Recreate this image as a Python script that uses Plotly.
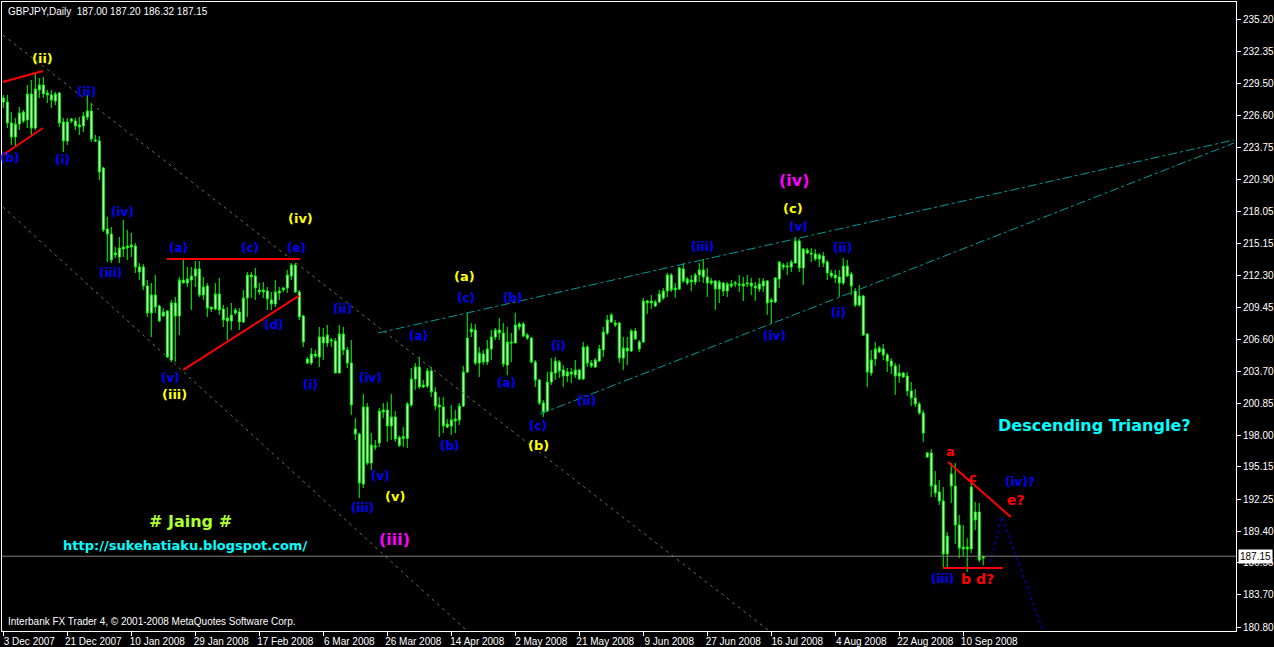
import plotly.graph_objects as go

# daily GBPJPY bars (bar 0 = 3 Dec 2007)
opens = [
    227.85, 227.85, 225.97, 224.72, 225.88, 226.15, 226.24, 228.57, 225.52, 228.93,
    229.37, 228.48, 228.48, 227.94, 228.66, 226.06, 224.36, 226.15, 226.15, 225.61,
    225.70, 226.50, 227.04, 224.45, 224.36, 221.94, 216.47, 216.02, 214.14, 213.96,
    214.68, 214.95, 214.86, 214.95, 213.07, 213.07, 211.37, 208.95, 210.56, 209.57,
    208.68, 209.12, 204.73, 209.84, 208.68, 211.90, 211.63, 211.90, 212.26, 212.89,
    210.56, 211.37, 209.30, 209.30, 210.65, 209.30, 208.23, 208.23, 208.95, 209.03,
    208.14, 210.29, 212.35, 212.26, 211.01, 210.83, 210.92, 210.11, 209.75, 210.74,
    211.01, 211.18, 212.26, 213.24, 210.83, 208.68, 204.82, 204.46, 205.27, 205.00,
    206.79, 206.26, 206.44, 206.44, 203.57, 207.06, 205.63, 204.46, 198.55, 198.10,
    193.62, 200.52, 195.50, 197.03, 197.30, 200.07, 200.25, 198.82, 199.63, 197.79,
    197.70, 197.70, 200.70, 203.03, 204.10, 202.31, 202.40, 203.75, 201.87, 200.70,
    200.52, 198.72, 198.82, 199.27, 199.36, 200.61, 203.66, 207.24, 207.42, 204.46,
    205.27, 204.55, 205.72, 206.79, 207.42, 207.15, 204.28, 206.35, 206.26, 207.96,
    207.96, 206.70, 206.70, 204.55, 202.94, 200.88, 200.16, 202.76, 203.57, 204.55,
    203.84, 203.30, 203.66, 203.39, 203.84, 203.03, 205.90, 204.46, 204.10, 204.64,
    205.63, 207.15, 208.14, 208.05, 208.05, 204.91, 205.81, 205.54, 207.33, 206.35,
    206.35, 210.02, 209.84, 209.57, 209.93, 210.29, 210.92, 212.35, 211.01, 211.09,
    212.89, 211.63, 211.90, 211.72, 212.35, 212.80, 212.17, 211.63, 211.81, 211.09,
    211.63, 210.92, 211.54, 211.54, 211.54, 211.36, 211.54, 211.63, 211.36, 211.09,
    211.36, 211.81, 209.93, 209.93, 211.99, 213.24, 213.06, 213.06, 213.42, 215.40,
    212.98, 214.59, 214.32, 214.23, 213.78, 214.05, 213.51, 212.53, 212.35, 212.17,
    211.63, 213.15, 212.44, 210.92, 209.66, 210.47, 207.06, 203.57, 204.82, 205.45,
    205.72, 205.18, 204.64, 204.20, 203.30, 203.57, 203.30, 201.96, 201.33, 200.79,
    199.98, 196.05, 196.41, 193.53, 192.91, 192.10, 187.35, 194.52, 193.44, 189.95,
    187.80, 187.98, 187.80, 191.12, 191.12, 187.00,
]
highs = [
    228.48, 228.48, 226.95, 226.42, 227.40, 227.13, 229.37, 229.82, 230.45, 230.00,
    230.09, 228.93, 228.93, 228.75, 228.75, 226.42, 226.42, 226.42, 226.42, 226.50,
    226.95, 228.48, 227.76, 224.89, 224.80, 222.03, 217.55, 216.65, 214.86, 215.75,
    217.28, 216.38, 216.11, 215.22, 213.42, 213.33, 211.90, 211.63, 212.35, 209.66,
    209.39, 209.21, 210.11, 210.38, 212.17, 213.87, 213.07, 213.07, 213.60, 213.60,
    212.17, 211.63, 209.48, 211.63, 212.08, 209.66, 209.48, 209.84, 209.39, 209.39,
    211.01, 212.62, 212.62, 212.98, 211.63, 211.72, 211.27, 210.83, 211.90, 211.27,
    211.27, 212.80, 213.42, 213.42, 211.01, 208.77, 205.00, 205.81, 205.63, 207.69,
    207.60, 207.87, 206.71, 206.71, 207.87, 207.69, 205.90, 206.53, 199.53, 198.19,
    201.68, 200.88, 198.19, 197.57, 200.43, 200.88, 200.97, 201.69, 200.16, 197.97,
    198.73, 200.97, 204.02, 204.46, 205.00, 202.94, 204.02, 204.10, 202.31, 201.42,
    201.42, 199.43, 200.70, 200.25, 200.88, 204.20, 208.94, 208.04, 207.95, 205.90,
    205.63, 206.53, 207.42, 207.60, 208.50, 208.05, 207.69, 207.15, 208.94, 208.14,
    208.14, 207.15, 206.79, 204.73, 203.03, 201.15, 203.66, 204.91, 205.00, 204.73,
    204.28, 204.02, 204.02, 204.73, 203.93, 206.35, 206.08, 204.73, 204.91, 206.08,
    207.69, 208.77, 208.95, 208.32, 208.14, 206.79, 206.79, 207.51, 207.60, 206.53,
    210.29, 210.11, 210.56, 210.11, 211.01, 211.18, 212.53, 212.53, 211.63, 213.06,
    213.42, 212.17, 212.35, 212.53, 213.42, 213.78, 212.98, 212.08, 211.90, 211.90,
    211.72, 211.72, 211.90, 211.81, 212.35, 212.17, 212.35, 212.08, 211.72, 212.08,
    212.08, 211.90, 210.29, 212.17, 213.60, 213.42, 213.51, 213.69, 215.75, 215.58,
    214.77, 214.77, 214.77, 214.68, 214.32, 214.41, 213.69, 212.80, 212.80, 212.80,
    213.87, 213.69, 212.62, 211.18, 211.45, 210.56, 207.15, 205.63, 206.35, 206.00,
    206.17, 205.36, 204.91, 204.46, 204.37, 203.66, 203.66, 202.76, 202.14, 200.97,
    200.25, 196.50, 196.76, 194.79, 193.98, 193.35, 189.32, 195.50, 195.50, 190.84,
    189.95, 188.78, 193.71, 192.01, 191.92, 187.20,
]
lows = [
    227.31, 225.52, 224.00, 223.82, 225.34, 225.97, 225.52, 224.89, 225.34, 228.21,
    228.21, 227.76, 227.31, 227.58, 225.61, 223.37, 224.00, 225.97, 225.34, 224.89,
    225.16, 226.24, 224.27, 224.27, 220.86, 216.20, 213.51, 213.42, 213.87, 213.42,
    213.96, 213.69, 213.96, 212.53, 211.90, 211.01, 208.59, 206.79, 208.95, 208.14,
    208.59, 204.91, 204.55, 204.55, 206.97, 211.63, 211.27, 209.21, 211.27, 210.38,
    210.11, 208.59, 209.03, 209.21, 208.77, 207.69, 206.53, 207.42, 208.77, 207.42,
    208.05, 208.59, 210.29, 210.11, 210.56, 210.29, 209.21, 209.21, 209.48, 210.11,
    210.83, 210.74, 211.90, 210.74, 208.32, 205.90, 204.37, 204.28, 204.91, 204.10,
    204.73, 205.90, 205.90, 203.57, 203.57, 205.18, 204.01, 199.81, 197.57, 192.37,
    193.26, 195.32, 194.88, 196.67, 196.94, 199.54, 197.39, 197.57, 197.39, 196.94,
    196.94, 196.85, 200.52, 202.05, 202.14, 202.22, 202.22, 201.42, 200.25, 197.83,
    198.19, 198.64, 198.01, 198.19, 198.91, 200.52, 203.57, 206.79, 204.28, 203.21,
    204.28, 204.28, 204.73, 206.53, 206.53, 204.10, 203.39, 204.55, 206.26, 207.42,
    206.79, 206.53, 204.46, 202.31, 200.70, 199.63, 200.07, 202.49, 202.94, 203.12,
    202.31, 202.76, 202.67, 203.12, 202.94, 202.94, 204.10, 204.02, 204.02, 204.55,
    204.99, 206.97, 208.05, 207.69, 204.46, 203.84, 204.28, 205.45, 206.53, 205.45,
    206.26, 208.86, 209.30, 209.48, 209.84, 210.11, 210.38, 210.83, 210.29, 211.01,
    211.63, 211.45, 210.92, 211.45, 211.72, 211.63, 210.38, 211.45, 209.21, 209.84,
    210.47, 210.38, 211.18, 211.27, 210.83, 210.02, 211.27, 210.56, 210.02, 210.83,
    210.83, 208.77, 207.96, 209.84, 211.18, 212.80, 212.35, 212.62, 213.42, 212.62,
    211.45, 214.23, 213.51, 213.60, 213.06, 213.06, 211.90, 212.08, 211.63, 210.38,
    211.45, 212.17, 210.56, 209.48, 209.48, 206.88, 202.31, 203.30, 204.20, 205.36,
    204.73, 203.66, 203.48, 201.60, 202.67, 203.12, 201.51, 200.61, 200.52, 199.81,
    197.39, 195.96, 192.45, 192.45, 191.74, 186.09, 186.10, 191.92, 188.25, 186.99,
    187.08, 185.74, 187.44, 189.50, 186.63, 186.32,
]
closes = [
    228.21, 225.97, 224.72, 225.88, 226.86, 226.95, 228.57, 225.52, 229.02, 229.37,
    228.57, 228.66, 228.03, 228.57, 225.97, 224.36, 226.06, 226.33, 225.70, 225.79,
    226.60, 227.04, 224.54, 224.36, 221.58, 216.38, 216.02, 213.69, 214.32, 214.77,
    214.86, 214.77, 215.04, 213.07, 212.62, 211.37, 208.95, 210.56, 209.48, 208.23,
    209.03, 205.00, 209.84, 208.68, 211.90, 211.63, 211.99, 212.26, 212.89, 210.56,
    211.27, 209.39, 209.48, 210.65, 209.21, 208.32, 208.50, 208.77, 209.21, 208.14,
    210.29, 212.35, 212.17, 211.18, 210.83, 211.01, 210.20, 209.75, 210.83, 210.92,
    211.18, 212.35, 213.24, 210.83, 208.59, 206.35, 204.46, 205.27, 205.09, 206.79,
    206.26, 206.97, 206.53, 203.57, 207.06, 205.63, 204.46, 200.70, 198.10, 193.71,
    200.52, 195.50, 197.12, 196.94, 200.16, 200.25, 198.82, 199.63, 197.66, 197.08,
    197.88, 200.79, 203.03, 204.10, 202.31, 202.49, 203.75, 201.87, 200.61, 200.52,
    198.82, 198.99, 199.36, 199.45, 200.61, 203.66, 206.70, 207.51, 204.46, 205.36,
    204.55, 205.72, 206.79, 207.42, 207.15, 204.37, 206.35, 206.26, 207.87, 207.69,
    206.88, 206.97, 204.55, 202.94, 200.88, 200.07, 202.76, 203.66, 204.64, 203.75,
    203.30, 203.66, 203.48, 203.84, 203.03, 205.90, 204.46, 204.20, 204.73, 205.72,
    207.24, 208.32, 208.77, 207.87, 204.91, 205.81, 205.54, 207.33, 206.62, 205.72,
    210.02, 209.84, 210.02, 209.93, 210.65, 210.92, 212.35, 211.01, 211.18, 212.98,
    211.81, 211.99, 211.72, 212.35, 212.80, 212.17, 211.63, 211.81, 211.09, 211.72,
    210.92, 211.54, 211.36, 211.63, 211.45, 211.54, 211.63, 211.36, 211.18, 211.54,
    211.81, 209.84, 210.11, 212.08, 213.51, 213.06, 213.15, 213.51, 215.40, 212.98,
    214.68, 214.32, 214.23, 213.78, 214.14, 213.42, 212.53, 212.26, 212.08, 211.63,
    213.15, 212.26, 211.36, 209.66, 210.47, 206.97, 203.66, 204.73, 205.72, 205.81,
    205.18, 204.64, 204.20, 203.30, 203.57, 203.21, 201.96, 201.33, 200.79, 199.98,
    198.19, 196.41, 193.44, 192.82, 192.10, 187.35, 188.96, 193.44, 189.95, 187.89,
    187.98, 187.80, 193.35, 190.40, 186.81, 187.15,
]
bars = list(range(len(closes)))

date_ticks = [0, 16, 32, 48, 64, 80, 96, 112, 128, 144, 160, 176, 192, 208, 224, 240]
date_labels = ["3 Dec 2007", "21 Dec 2007", "10 Jan 2008", "29 Jan 2008", "17 Feb 2008",
               "6 Mar 2008", "26 Mar 2008", "14 Apr 2008", "2 May 2008", "21 May 2008",
               "9 Jun 2008", "27 Jun 2008", "16 Jul 2008", "4 Aug 2008", "22 Aug 2008",
               "10 Sep 2008"]
price_ticks = [235.20, 232.35, 229.50, 226.60, 223.75, 220.90, 218.05, 215.15, 212.30,
               209.45, 206.60, 203.70, 200.85, 198.00, 195.15, 192.25, 189.40, 186.55,
               183.70, 180.80]
last_price = 187.15

# trendlines: (bar0, price0, bar1, price1)
channel_lines = [(-0.1, 233.85, 191.2, 180.54), (-0.1, 218.44, 115.7, 180.54)]
wedge_lines = [(93.7, 207.15, 307.7, 224.45), (134.2, 199.89, 307.7, 224.18)]
red_lines = [
    (-0.1, 229.64, 9.9, 230.63), (-0.1, 223.10, 9.9, 225.52),
    (40.9, 213.78, 74.2, 213.78), (45.0, 203.84, 74.0, 210.50),
    (236.2, 195.59, 251.9, 190.67), (234.9, 186.10, 249.9, 186.10),
]
projection_x = [246.7, 249.7, 259.9]
projection_y = [186.63, 190.67, 180.54]

YEL, BLU, MAG, RED = "#FFFF00", "#0000FF", "#FF00FF", "#FF0000"
# wave labels: (bar, price, text, colour, size)
wave_labels = [
    (9.9, 231.79, "(ii)", YEL, 13), (74.2, 217.37, "(iv)", YEL, 13),
    (42.9, 201.60, "(iii)", YEL, 13), (115.4, 212.17, "(a)", YEL, 13),
    (133.7, 197.03, "(b)", YEL, 13), (197.4, 218.35, "(c)", YEL, 13),
    (97.9, 192.46, "(v)", YEL, 13),
    (197.9, 220.86, "(iv)", MAG, 16), (97.9, 188.61, "(iii)", MAG, 16),
    (1.7, 222.83, "(b)", BLU, 12), (14.9, 222.65, "(i)", BLU, 12),
    (20.9, 228.75, "(ii)", BLU, 12), (26.7, 212.53, "(iii)", BLU, 12),
    (29.9, 217.99, "(iv)", BLU, 12), (43.7, 214.77, "(a)", BLU, 12),
    (61.7, 214.77, "(c)", BLU, 12), (73.4, 214.77, "(e)", BLU, 12),
    (67.7, 207.87, "(d)", BLU, 12), (41.9, 203.12, "(v)", BLU, 12),
    (76.9, 202.49, "(i)", BLU, 12), (84.7, 209.30, "(ii)", BLU, 12),
    (89.7, 191.47, "(iii)", BLU, 12), (91.7, 203.12, "(iv)", BLU, 12),
    (94.2, 194.34, "(v)", BLU, 12), (103.7, 206.88, "(a)", BLU, 12),
    (111.7, 197.03, "(b)", BLU, 12), (115.7, 210.29, "(c)", BLU, 12),
    (125.9, 202.67, "(a)", BLU, 12), (127.4, 210.29, "(b)", BLU, 12),
    (133.7, 198.82, "(c)", BLU, 12), (138.9, 205.99, "(i)", BLU, 12),
    (145.9, 201.06, "(ii)", BLU, 12), (174.9, 214.86, "(iii)", BLU, 12),
    (192.9, 206.88, "(iv)", BLU, 12), (198.7, 216.65, "(v)", BLU, 12),
    (209.9, 214.77, "(ii)", BLU, 12), (208.9, 208.95, "(i)", BLU, 12),
    (234.9, 185.11, "(iii)", BLU, 12), (254.2, 193.80, "(iv)?", BLU, 12),
    (236.7, 196.49, "a", RED, 13), (242.4, 194.16, "c", RED, 13),
    (240.7, 185.11, "b", RED, 14), (245.4, 185.11, "d?", RED, 14),
    (253.2, 192.19, "e?", RED, 14),
    (272.7, 198.82, "Descending Triangle?", "#00FFFF", 16),
    (46.7, 190.22, "# Jaing #", "#ADFF2F", 16),
    (45.4, 188.07, "http://sukehatiaku.blogspot.com/", "#00FFFF", 13),
]

fig = go.Figure()

fig.add_trace(go.Candlestick(
    x=bars, open=opens, high=highs, low=lows, close=closes,
    increasing=dict(line=dict(color="#00FF00", width=1), fillcolor="white"),
    decreasing=dict(line=dict(color="#00FF00", width=1), fillcolor="white"),
    whiskerwidth=0, hoverinfo="skip",
))

# blue dotted projection
fig.add_trace(go.Scatter(
    x=projection_x, y=projection_y, mode="lines",
    line=dict(color="#0000FF", width=1, dash="dot"), hoverinfo="skip",
))

for x0, y0, x1, y1 in channel_lines:
    fig.add_shape(type="line", x0=x0, y0=y0, x1=x1, y1=y1,
                  line=dict(color="#6e6e52", width=1, dash="3px,4px"))
for x0, y0, x1, y1 in wedge_lines:
    fig.add_shape(type="line", x0=x0, y0=y0, x1=x1, y1=y1,
                  line=dict(color="#009a9a", width=1, dash="dashdot"))
for x0, y0, x1, y1 in red_lines:
    fig.add_shape(type="line", x0=x0, y0=y0, x1=x1, y1=y1,
                  line=dict(color="#FF0000", width=2))

# last price line
fig.add_hline(y=last_price, line=dict(color="#808080", width=1))

for x, y, txt, col, size in wave_labels:
    fig.add_annotation(x=x, y=y, text=f"<b>{txt}</b>", showarrow=False,
                       font=dict(family="DejaVu Sans", size=size, color=col))

small = dict(family="Liberation Sans", size=10, color="white")
fig.add_annotation(xref="paper", yref="paper", x=0, y=1, xanchor="left", yanchor="top",
                   xshift=4, yshift=-2, showarrow=False, font=small,
                   text="GBPJPY,Daily  187.00 187.20 186.32 187.15")
fig.add_annotation(xref="paper", yref="paper", x=0, y=0, xanchor="left", yanchor="bottom",
                   xshift=4, yshift=2, showarrow=False, font=small,
                   text="Interbank FX Trader 4, © 2001-2008 MetaQuotes Software Corp.")
fig.add_annotation(xref="paper", yref="y", x=1, y=last_price, xanchor="left", xshift=2,
                   showarrow=False, bgcolor="white", borderpad=1,
                   font=dict(family="Liberation Sans", size=10, color="black"),
                   text=f"{last_price:.2f}")

fig.update_layout(
    width=1274, height=647,
    paper_bgcolor="black", plot_bgcolor="black",
    margin=dict(l=2, r=38, t=2, b=16),
    showlegend=False,
    hovermode=False,
    xaxis=dict(
        range=[-0.33, 308.2], tickvals=date_ticks, ticktext=date_labels,
        ticks="outside", ticklen=4, tickcolor="white", ticklabelshift=26,
        ticklabelstandoff=-3, automargin=False,
        showgrid=False, zeroline=False, showline=True, linecolor="white", mirror=True,
        rangeslider=dict(visible=False), tickfont=small,
    ),
    yaxis=dict(
        side="right", range=[180.45, 236.81], tickvals=price_ticks,
        ticktext=[f"{v:.2f}" for v in price_ticks], automargin=False,
        ticks="outside", ticklen=4, tickcolor="white",
        showgrid=False, zeroline=False, showline=True, linecolor="white", mirror=True,
        tickfont=small,
    ),
)

# page body has a default 8px margin; drop it so the chart sits at the window corner
fig.write_html("out.html", config={"displayModeBar": False},
               post_script="document.body.style.margin='0px';document.body.style.overflow='hidden';")
